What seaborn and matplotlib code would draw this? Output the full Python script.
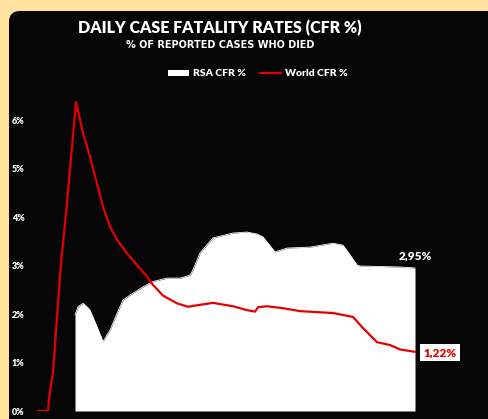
import matplotlib
matplotlib.use("Agg")
import matplotlib.pyplot as plt
import seaborn as sns
from matplotlib.patches import FancyBboxPatch, Patch
from matplotlib.lines import Line2D

# ---- data (day index, CFR %) ----
world_day = [0, 11, 12, 13, 16, 23, 30, 39, 46, 53, 60, 66, 73, 80, 90, 100, 110, 116, 126, 140, 151,
             163, 176, 196, 210, 218, 221, 230, 246, 263, 296, 316, 326, 340, 353, 363, 378]
world_cfr = [0, 0, 0.25, 0.4, 0.8, 2.8, 4.3, 6.37, 5.73, 5.24, 4.69, 4.21, 3.80, 3.53, 3.25, 3.01, 2.77,
             2.60, 2.38, 2.22, 2.15, 2.19, 2.23, 2.16, 2.08, 2.05, 2.14, 2.16, 2.12, 2.06, 2.02, 1.94,
             1.71, 1.42, 1.36, 1.27, 1.22]

rsa_day = [38, 41, 46, 50, 53, 60, 66, 73, 80, 86, 96, 106, 116, 130, 143, 153, 156, 163, 176, 196,
           210, 220, 226, 238, 250, 273, 296, 306, 313, 320, 323, 363, 378]
rsa_cfr = [1.98, 2.15, 2.22, 2.15, 2.08, 1.74, 1.43, 1.67, 2.01, 2.29, 2.43, 2.56, 2.67, 2.74, 2.74,
           2.80, 2.91, 3.26, 3.57, 3.67, 3.69, 3.65, 3.59, 3.28, 3.36, 3.38, 3.46, 3.42, 3.22, 3.01,
           2.99, 2.97, 2.95]

y_ticks = [0, 1, 2, 3, 4, 5, 6]
y_labels = [f"{v}%" for v in y_ticks]

title = "DAILY CASE FATALITY RATES (CFR %)"
subtitle = "% OF REPORTED CASES WHO DIED"
series_names = ["RSA CFR %", "World CFR %"]
end_labels = ["2,95%", "1,22%"]

BEIGE = "#FDE39D"
PANEL = "#060606"
RED = "#E60000"

sns.set_theme(style="dark")
plt.rcParams["font.family"] = ["Lato", "DejaVu Sans"]

W, H = 488, 419
fig = plt.figure(figsize=(W / 100, H / 100), dpi=100)
fig.patch.set_facecolor(BEIGE)

# background panel (pixel coordinates axes)
bg = fig.add_axes([0, 0, 1, 1])
bg.set_xlim(0, W)
bg.set_ylim(H, 0)
bg.axis("off")
bg.add_patch(FancyBboxPatch((9, 11), 700, 700, boxstyle="round,pad=0,rounding_size=11",
                            facecolor=PANEL, edgecolor="none"))

ax = fig.add_axes([37 / W, 1 - 411 / H, 395 / W, 321 / H])
ax.set_facecolor("none")
ax.set_xlim(0, 395)
ax.set_ylim(0, 6.62)

ax.fill_between(rsa_day, rsa_cfr, 0, color="white", lw=0, zorder=2)
sns.lineplot(x=rsa_day, y=rsa_cfr, ax=ax, color="white", lw=0.6, zorder=2)
sns.lineplot(x=world_day, y=world_cfr, ax=ax, color=RED, lw=1.6, zorder=3)

for s in ax.spines.values():
    s.set_visible(False)
ax.grid(False)
ax.set_xticks([])
ax.set_yticks(y_ticks)
ax.set_yticklabels(y_labels, color="white", fontsize=6.5, fontweight="heavy")
ax.tick_params(axis="y", length=0, pad=9)
ax.set_xlabel("")
ax.set_ylabel("")

ax.annotate(end_labels[0], xy=(rsa_day[-1], rsa_cfr[-1]), xytext=(0, 12),
            textcoords="offset pixels", ha="center", va="center",
            color="white", fontsize=8.5, fontweight="heavy")
ax.annotate(end_labels[1], xy=(world_day[-1], world_cfr[-1]), xytext=(25, -1),
            textcoords="offset pixels", ha="center", va="center",
            color=RED, fontsize=8.5, fontweight="heavy",
            bbox=dict(boxstyle="square,pad=0.25", facecolor="white", edgecolor="none"))

fig.text(220 / W, 1 - 28 / H, title, ha="center", va="center", color="white",
         fontsize=11.5, fontweight="heavy")
fig.text(220 / W, 1 - 45 / H, subtitle, ha="center", va="center", color="white",
         fontsize=7, fontweight="bold", family=["DejaVu Sans"])

handles = [Patch(facecolor="white", edgecolor="none"),
           Line2D([0], [0], color=RED, lw=1.6)]
leg = fig.legend(handles, series_names, loc="center", bbox_to_anchor=(258 / W, 1 - 74 / H),
                 ncol=2, frameon=False, fontsize=7.5, handlelength=2.0, handleheight=0.5,
                 handletextpad=0.4, columnspacing=1.3, borderaxespad=0)
for t in leg.get_texts():
    t.set_color("white")
    t.set_fontweight("heavy")

fig.savefig("out.png", dpi=100, facecolor=BEIGE)
